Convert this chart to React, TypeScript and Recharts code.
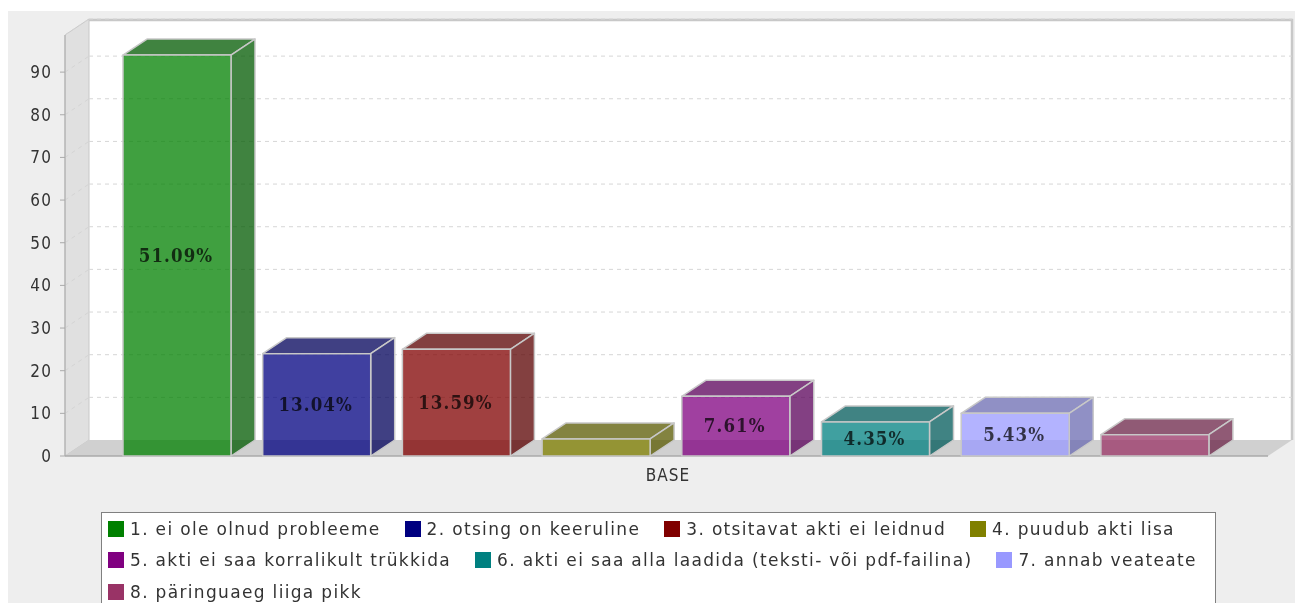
import React from 'react';
import {
  BarChart,
  Bar,
  XAxis,
  YAxis,
  CartesianGrid,
} from 'recharts';

const categories = ['BASE'];
const seriesNames = [
  '1. ei ole olnud probleeme',
  '2. otsing on keeruline',
  '3. otsitavat akti ei leidnud',
  '4. puudub akti lisa',
  '5. akti ei saa korralikult trükkida',
  '6. akti ei saa alla laadida (teksti- või pdf-failina)',
  '7. annab veateate',
  '8. päringuaeg liiga pikk',
];
const seriesValues = [94, 24, 25, 4, 14, 8, 10, 5];
const percentLabels = ['51.09%', '13.04%', '13.59%', '', '7.61%', '4.35%', '5.43%', ''];
const seriesColors = ['#008000', '#000080', '#800000', '#808000', '#800080', '#008080', '#9999ff', '#993366'];
const sideColors = ['#005900', '#000059', '#590000', '#595900', '#590059', '#005959', '#6b6bb2', '#6b2347'];
const yTicks = [0, 10, 20, 30, 40, 50, 60, 70, 80, 90];

const DX = 24;
const DY = 16;
const FONT = '"DejaVu Sans", sans-serif';
const tickStyle = {
  fontFamily: FONT,
  fontSize: 17,
  fontStretch: 'condensed',
  letterSpacing: 1.1,
  fill: '#333333',
};

const chartData = categories.map((name) => {
  const row: Record<string, string | number> = { name };
  seriesValues.forEach((value, i) => {
    row[`s${i}`] = value;
  });
  return row;
});

// left wall, back wall and floor sit in their own svg under the transparent chart
function Walls() {
  const left = 57;
  const right = 1260;
  const top = 24;
  const bottom = 445;
  return (
    <svg width={1295} height={592} style={{ position: 'absolute', left: 0, top: 0 }}>
      <rect x={left + DX} y={top - DY} width={right - left} height={bottom - top} fill="#ffffff" />
      <polygon
        points={`${left},${top} ${left + DX},${top - DY} ${left + DX},${bottom - DY} ${left},${bottom}`}
        fill="#e0e0e0"
        stroke="#c8c8c8"
      />
      <polygon
        points={`${left},${bottom} ${left + DX},${bottom - DY} ${right + DX},${bottom - DY} ${right},${bottom}`}
        fill="#d0d0d0"
      />
      <path
        d={`M${left + DX},${top - DY + 1} H${right + DX} V${bottom - DY}`}
        fill="none"
        stroke="#c8c8c8"
        strokeWidth={2.5}
      />
      <line x1={left} y1={bottom} x2={right} y2={bottom} stroke="#aaaaaa" strokeWidth={1.5} />
    </svg>
  );
}

function GridLine(props: any) {
  const { x1, y1, y2 } = props;
  if (y1 > 440) return null;
  return (
    <g strokeWidth={1} strokeDasharray="4 4" fill="none">
      <line x1={x1} y1={y1} x2={x1 + DX} y2={y1 - DY} stroke="#d4d4d4" />
      <line x1={x1 + DX} y1={y1 - DY} x2={1260 + DX} y2={y2 - DY} stroke="#d6d6d6" />
    </g>
  );
}

function Bar3D(props: any) {
  const { x, y, width, height, index } = props;
  const i = props.seriesIndex as number;
  const front = seriesColors[i];
  const side = sideColors[i];
  const right = x + width;
  const bottom = y + height;
  return (
    <g key={index} stroke="#c8c8c8" strokeWidth={1.5} strokeLinejoin="round">
      <polygon
        points={`${x},${y} ${x + DX},${y - DY} ${right + DX},${y - DY} ${right},${y}`}
        fill={side}
        fillOpacity={0.75}
      />
      <polygon
        points={`${right},${y} ${right + DX},${y - DY} ${right + DX},${bottom - DY} ${right},${bottom}`}
        fill={side}
        fillOpacity={0.75}
      />
      <rect x={x} y={y} width={width} height={height} fill={front} fillOpacity={0.75} />
    </g>
  );
}

function PercentLabel(props: any) {
  const { x, y, width, height } = props;
  const text = percentLabels[props.seriesIndex];
  if (!text) return null;
  return (
    <text
      x={x + width / 2 - 1}
      y={y + height / 2 + 6}
      textAnchor="middle"
      fontFamily='"DejaVu Serif", serif'
      fontWeight="bold"
      fontSize={18.5}
      letterSpacing={1.1}
      style={{ fontStretch: 'condensed' }}
      fill="#000000"
      fillOpacity={0.72}
    >
      {text}
    </text>
  );
}

function LegendBox() {
  return (
    <div
      style={{
        position: 'absolute',
        left: 93,
        top: 501,
        width: 1107,
        height: 120,
        background: '#ffffff',
        border: '1.5px solid #808080',
        display: 'flex',
        flexWrap: 'wrap',
        alignContent: 'flex-start',
        columnGap: 24,
        padding: '0 0 0 6px',
        fontFamily: FONT,
        fontSize: 17,
        letterSpacing: 1.33,
        color: '#333333',
      }}
    >
      {seriesNames.map((name, i) => (
        <div key={name} style={{ display: 'flex', alignItems: 'center', height: 31.5, whiteSpace: 'nowrap' }}>
          <span style={{ width: 16, height: 16, background: seriesColors[i], marginRight: 6 }} />
          {name}
        </div>
      ))}
    </div>
  );
}

export default function App() {
  return (
    <div
      style={{
        position: 'relative',
        width: 1295,
        height: 592,
        marginTop: 3,
        background: '#eeeeee',
        overflow: 'hidden',
        filter: 'blur(0.4px)',
      }}
    >
      <Walls />
      <BarChart
        width={1295}
        height={592}
        data={chartData}
        margin={{ top: 24, right: 37, bottom: 117, left: 0 }}
        barSize={108}
        barGap={31.7}
      >
        <CartesianGrid vertical={false} horizontal={(p: any) => <GridLine key={p.key} {...p} />} />
        <XAxis
          dataKey="name"
          height={30}
          axisLine={false}
          tickLine={false}
          tick={{ ...tickStyle, dx: 2.5, dy: 1 }}
          tickMargin={6}
          stroke="#aaaaaa"
        />
        <YAxis
          width={57}
          domain={[0, 98.7]}
          ticks={yTicks}
          interval={0}
          tickSize={5}
          tickMargin={8}
          tick={tickStyle}
          stroke="#aaaaaa"
        />
        {seriesNames.map((name, i) => (
          <Bar
            key={name}
            dataKey={`s${i}`}
            name={name}
            isAnimationActive={false}
            shape={(p: any) => <Bar3D {...p} seriesIndex={i} />}
            label={(p: any) => <PercentLabel {...p} seriesIndex={i} />}
          />
        ))}
      </BarChart>
      <LegendBox />
    </div>
  );
}
